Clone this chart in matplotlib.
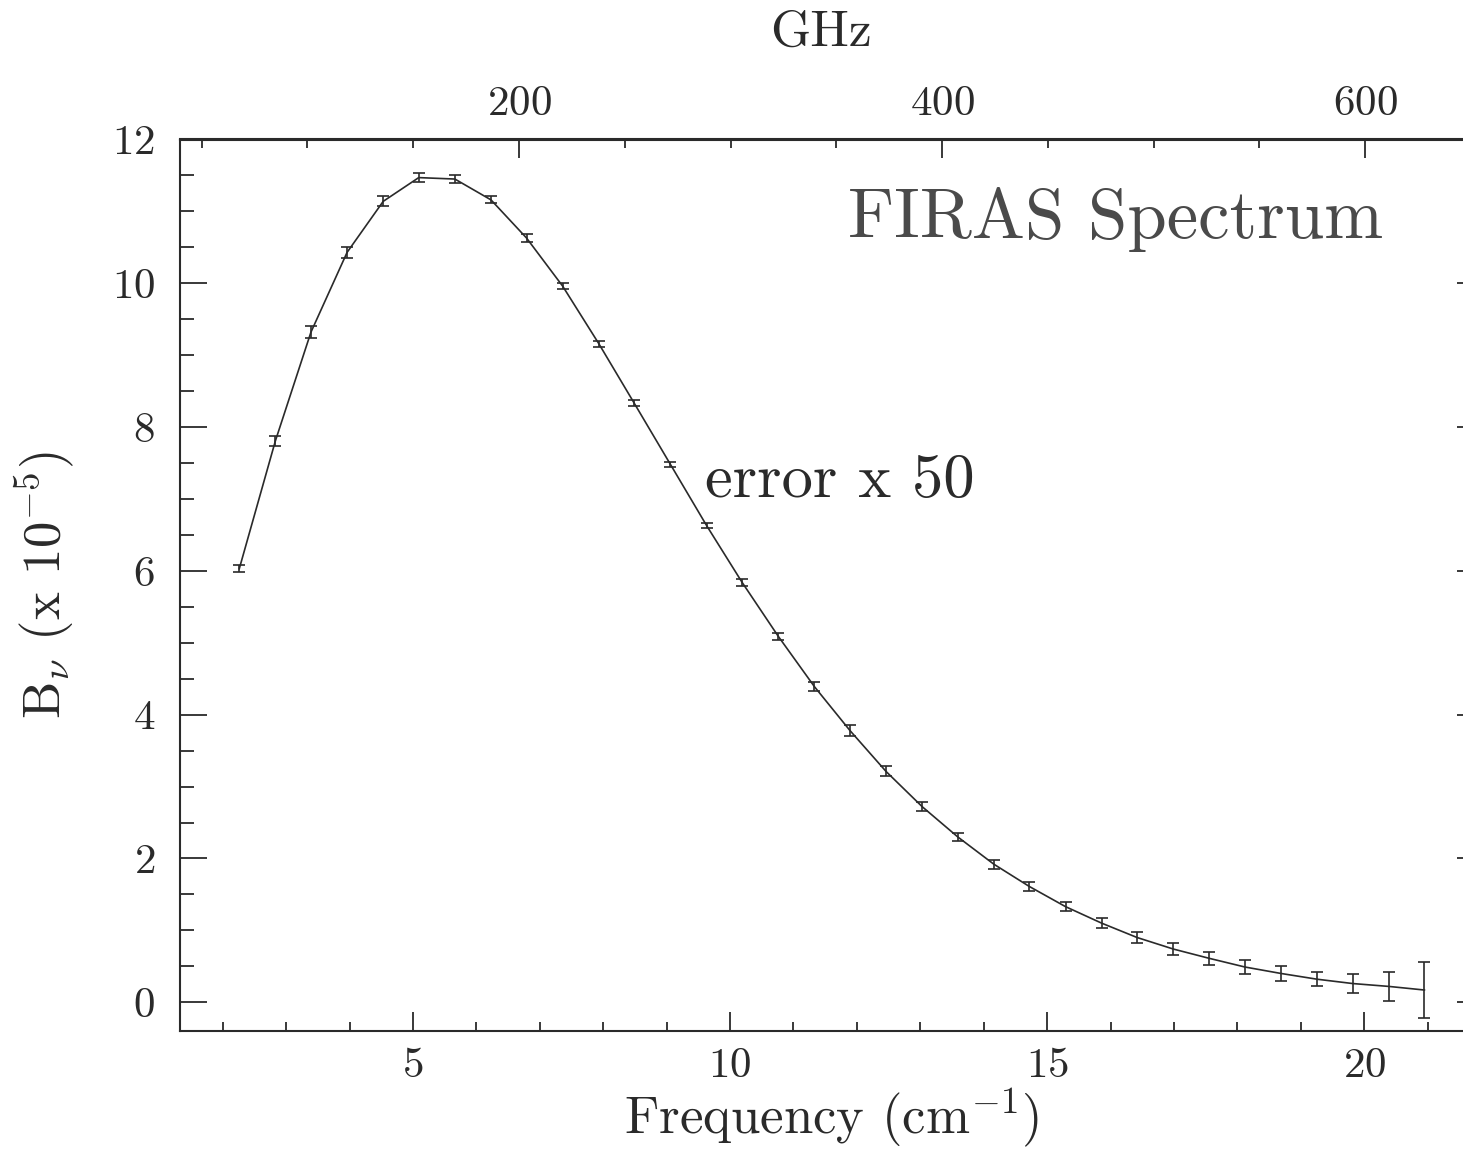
import matplotlib
matplotlib.use("Agg")
import matplotlib.pyplot as plt
from matplotlib.ticker import MultipleLocator

# ---- data ----
freq_cm = [2.26, 2.83, 3.39, 3.96, 4.53, 5.09, 5.66, 6.23, 6.79, 7.36,
           7.93, 8.49, 9.06, 9.63, 10.19, 10.76, 11.33, 11.89, 12.46, 13.03,
           13.59, 14.16, 14.72, 15.29, 15.86, 16.42, 16.99, 17.56, 18.12, 18.69,
           19.26, 19.82, 20.39, 20.95]
intensity = [6.03, 7.81, 9.32, 10.43, 11.14, 11.47, 11.45, 11.16, 10.63, 9.96,
             9.16, 8.33, 7.48, 6.63, 5.84, 5.09, 4.39, 3.78, 3.21, 2.72,
             2.30, 1.92, 1.61, 1.33, 1.10, 0.90, 0.74, 0.61, 0.49, 0.40,
             0.32, 0.26, 0.22, 0.17]
error_x50 = [0.05, 0.07, 0.08, 0.08, 0.07, 0.06, 0.06, 0.05, 0.05, 0.04,
             0.04, 0.04, 0.04, 0.04, 0.05, 0.05, 0.06, 0.07, 0.07, 0.06,
             0.06, 0.06, 0.06, 0.06, 0.07, 0.08, 0.085, 0.09, 0.095, 0.10,
             0.10, 0.13, 0.20, 0.39]
ghz_major = [200, 400, 600]
CM_TO_GHZ = 29.9792458

plt.rcParams['font.family'] = ['cmr10']
plt.rcParams['mathtext.fontset'] = 'cm'
plt.rcParams['axes.formatter.use_mathtext'] = True

INK = '#2a2a2a'
W, H = 1463, 1149
fig = plt.figure(figsize=(W / 100, H / 100), dpi=100)
left, right, top, bottom = 180, 1484, 139.5, 1031
ax = fig.add_axes([left / W, 1 - bottom / H, (right - left) / W, (bottom - top) / H])

ax.errorbar(freq_cm, intensity, yerr=error_x50, color=INK, lw=1.2,
            elinewidth=1.2, capsize=4.3, capthick=1.2)

ax.set_xlim(1.325, 21.89)
ax.set_ylim(-0.4, 12)

for s in ax.spines.values():
    s.set_linewidth(1.5)
    s.set_color(INK)

ax.xaxis.set_major_locator(MultipleLocator(5))
ax.xaxis.set_minor_locator(MultipleLocator(1))
ax.yaxis.set_major_locator(MultipleLocator(2))
ax.yaxis.set_minor_locator(MultipleLocator(0.5))
ax.tick_params(axis='x', which='both', direction='in', top=False, bottom=True,
               labelsize=31, pad=12, colors=INK, width=1.3)
ax.tick_params(axis='x', which='major', length=13.7)
ax.tick_params(axis='x', which='minor', length=6.5)
ax.tick_params(axis='y', which='both', direction='in', left=True, right=True,
               labelsize=31, pad=18, colors=INK, width=1.3)
ax.tick_params(axis='y', which='major', length=19.4)
ax.tick_params(axis='y', which='minor', length=10)

sec = ax.secondary_xaxis('top', functions=(lambda x: x * CM_TO_GHZ,
                                           lambda g: g / CM_TO_GHZ))
sec.set_xticks(ghz_major)
sec.xaxis.set_minor_locator(MultipleLocator(50))
sec.tick_params(axis='x', which='both', direction='in', labelsize=31, pad=12,
                colors=INK, width=1.3)
sec.tick_params(axis='x', which='major', length=13.7)
sec.tick_params(axis='x', which='minor', length=6.5)
sec.spines['top'].set_linewidth(1.5)
sec.spines['top'].set_color(INK)

ax.set_xlabel(r'Frequency (cm$^{-1}$)', fontsize=38, color=INK)
ax.xaxis.set_label_coords(0.5, -0.063)
ax.set_ylabel(r'B$_\nu$ (x 10$^{-5}$)', fontsize=38, color=INK)
ax.yaxis.set_label_coords(-0.079, 0.5)

fig.text(821 / W, 1 - 33 / H, 'GHz', fontsize=37, color=INK,
         ha='center', va='center')
fig.text(848 / W, 1 - 238 / H, 'FIRAS Spectrum', fontsize=51, color='#4a4a4a',
         ha='left', va='baseline')
fig.text(705 / W, 1 - 497 / H, 'error x 50', fontsize=45, color=INK,
         ha='left', va='baseline')

fig.savefig('out.png', dpi=100)
